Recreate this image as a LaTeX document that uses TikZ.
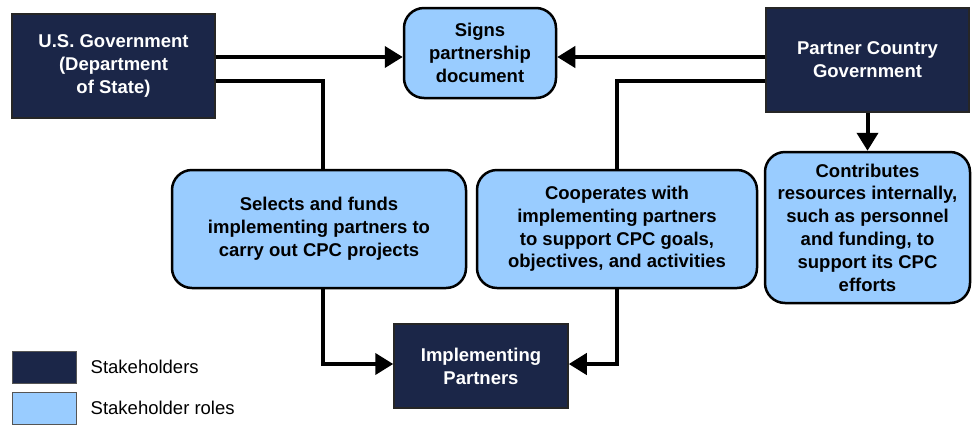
\documentclass[tikz,border=0pt]{standalone}
\usepackage{fontspec}
\setmainfont{Liberation Sans}
\usepackage{xcolor}
\usepackage{tikz}
\usetikzlibrary{positioning,arrows.meta}
\definecolor{navy}{HTML}{1B2648}
\definecolor{rolefill}{HTML}{99CCFF}
\definecolor{linegray}{HTML}{555555}
\tikzset{
  % --- stakeholder boxes (dark) and role boxes (light, rounded) ---
  holder/.style={draw=black!85, line width=1.5pt, fill=navy, text=white,
                 align=center, inner sep=0pt,
                 font=\bfseries\fontsize{18.5}{23}\selectfont},
  role/.style={draw=black, line width=2.5pt, fill=rolefill, text=black,
               rounded corners=20pt, align=center, inner sep=0pt,
               font=\bfseries\fontsize{18.5}{22.8}\selectfont},
  % --- legend ---
  legbox/.style={draw=linegray, line width=1pt, minimum width=64pt,
                 minimum height=32pt, inner sep=0pt},
  legtext/.style={anchor=west, inner sep=0pt, font=\fontsize{18.5}{22}\selectfont},
  % --- connectors ---
  link/.style={line width=4pt, draw=black},
  flow/.style={link, -{Triangle[length=18pt,width=21pt]}},
}
\begin{document}
\begin{tikzpicture}[x=1pt, y=-1pt]
  \useasboundingbox (0,0) rectangle (975,424);
  % stakeholders
  \node[holder, minimum width=203pt, minimum height=104pt] (usg) at (113.5,66)
        {U.S. Government\\(Department\\of State)};
  \node[holder, minimum width=203pt, minimum height=104pt] (pcg) at (867.5,60)
        {Partner Country\\Government};
  \node[holder, minimum width=174pt, minimum height=84pt] (impl) at (481,366)
        {Implementing\\Partners};
  % roles
  \node[role, minimum width=152pt, minimum height=90pt] (signs) at (480,53)
        {Signs\\partnership\\document};
  \node[role, minimum width=294pt, minimum height=118pt] (sel) at (319,229)
        {Selects and funds\\implementing partners to\\carry out CPC projects};
  \node[role, minimum width=280pt, minimum height=118pt] (coop) at (617,229)
        {Cooperates with\\implementing partners\\to support CPC goals,\\objectives, and activities};
  \node[role, minimum width=205pt, minimum height=151pt] (contrib) at (867.5,227.5)
        {Contributes\\resources internally,\\such as personnel\\and funding, to\\support its CPC\\efforts};
  % legend
  \node[legbox, fill=navy] (legs) at (44,367) {};
  \node[legtext, right=14pt of legs] (legst) {Stakeholders};
  \node[legbox, fill=rolefill] (legr) at (44,408) {};
  \node[legtext, right=14pt of legr] (legrt) {Stakeholder roles};
  % connectors
  \draw[flow] ([yshift=9pt]usg.east) -- ([yshift=9pt]usg.east -| signs.west);
  \draw[flow] ([yshift=3pt]pcg.west) -- ([yshift=3pt]pcg.west -| signs.east);
  \draw[link] ([yshift=-15pt]usg.east) -| ([xshift=4pt]sel.north);
  \draw[link] ([yshift=-21pt]pcg.west) -| (coop.north);
  \draw[flow] ([xshift=4pt]sel.south) |- ([yshift=2pt]impl.west);
  \draw[flow] (coop.south) |- ([yshift=2pt]impl.east);
  \draw[flow] (pcg.south) -- (contrib.north);
\end{tikzpicture}
\end{document}
